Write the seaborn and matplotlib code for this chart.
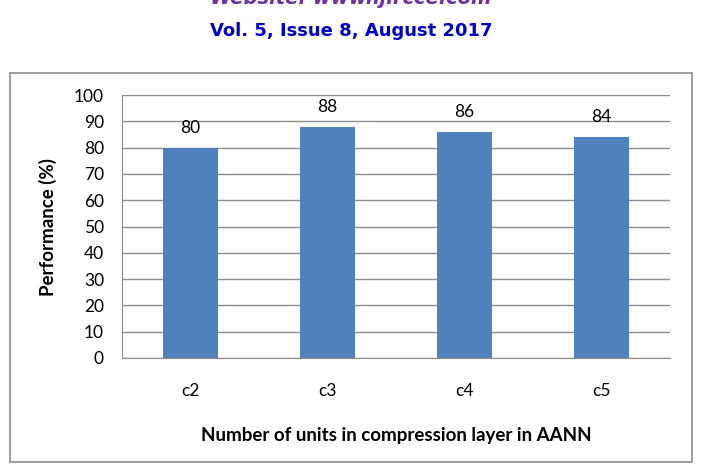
import pandas as pd
import numpy as np
import matplotlib
matplotlib.use("Agg")
import matplotlib.pyplot as plt
import seaborn as sns
from matplotlib.patches import Rectangle

# chart data
units = ["c2", "c3", "c4", "c5"]
performance = [80, 88, 86, 84]
yticks = [0, 10, 20, 30, 40, 50, 60, 70, 80, 90, 100]

df = pd.DataFrame({"units": units, "performance": performance})

sns.set_style("white")
plt.rcParams["font.family"] = ["Lato", "DejaVu Sans"]
plt.rcParams["text.color"] = "black"
plt.rcParams["xtick.color"] = "black"
plt.rcParams["ytick.color"] = "black"

fig = plt.figure(figsize=(7.02, 4.70), dpi=100)

# journal header (top line is cut off in the page crop)
fig.text(0.5, 1 + 2 / 470, "Website: www.ijircce.com", ha="center", va="center",
         fontsize=14, fontweight="bold", fontstyle="italic", color="#7030A0",
         family="DejaVu Sans")
fig.text(0.5, 1 - 31 / 470, "Vol. 5, Issue 8, August 2017", ha="center", va="center",
         fontsize=13, fontweight="bold", color="#0000CC", family="DejaVu Sans")

# chart frame
fig.patches.append(Rectangle((10 / 702, 1 - 462 / 470), 682 / 702, 389 / 470,
                             transform=fig.transFigure, fill=False,
                             edgecolor="#8c8c8c", linewidth=1.2))

ax = fig.add_axes([122 / 702, 1 - 358 / 470, 548 / 702, 263 / 470])
sns.barplot(data=df, x="units", y="performance", color="#4F81BD",
            saturation=1, width=0.4, linewidth=0, ax=ax)

ax.set_ylim(0, 100)
ax.set_yticks(yticks)
ax.yaxis.grid(True, color="#8c8c8c", linewidth=1)
ax.set_axisbelow(True)
for s in ["top", "right"]:
    ax.spines[s].set_visible(False)
for s in ["left", "bottom"]:
    ax.spines[s].set_color("#8c8c8c")
ax.tick_params(axis="y", direction="out", length=7, color="#8c8c8c",
               labelcolor="black", labelsize=12.5, pad=6)
ax.tick_params(axis="x", length=0, labelcolor="black", labelsize=12.5, pad=18)

for i, v in enumerate(performance):
    ax.text(i, v + 4.5, str(v), ha="center", va="bottom", fontsize=12.5)

ax.set_xlabel("Number of units in compression layer in AANN", fontsize=13.5,
              fontweight="bold", labelpad=20, color="black")
ax.set_ylabel("Performance (%)", fontsize=13.5, fontweight="bold", labelpad=12,
              color="black")

fig.savefig("out.png", dpi=100)
